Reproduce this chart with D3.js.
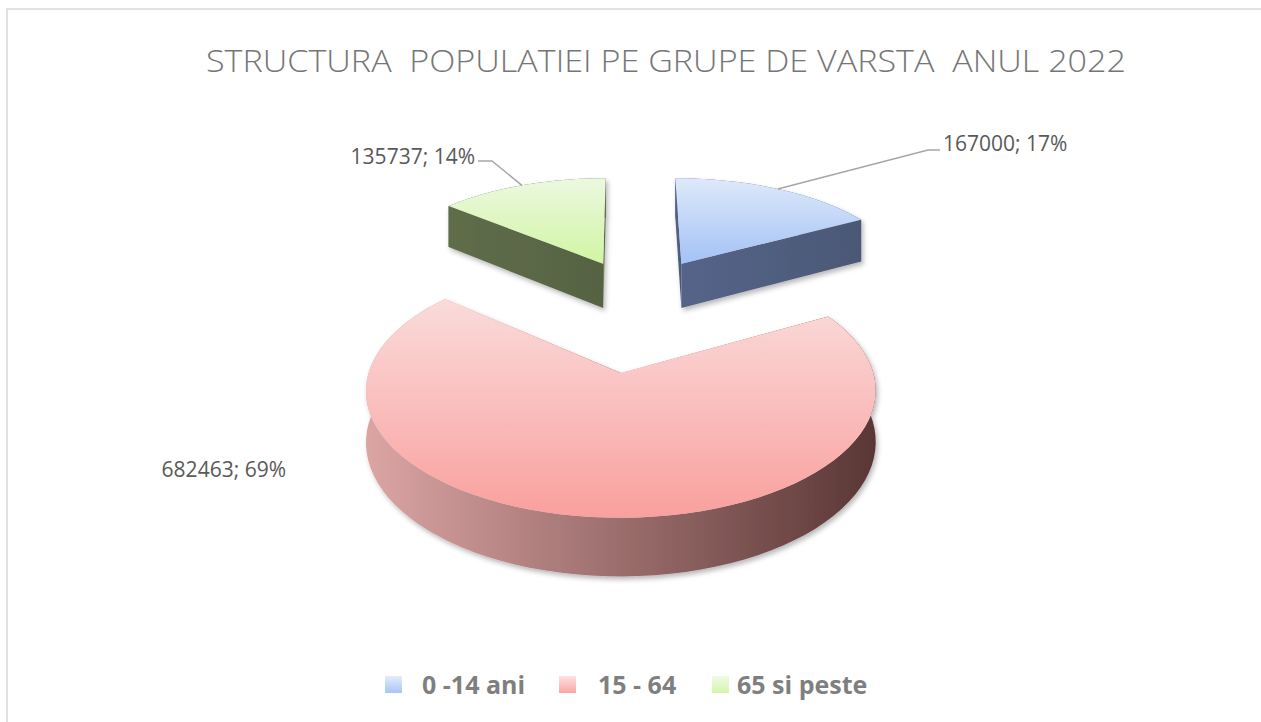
<!DOCTYPE html>
<html>
<head>
<meta charset="utf-8">
<script src="https://d3js.org/d3.v7.min.js"></script>
<style>
    body { margin: 0; background: #fff; }
    svg { display: block; }
    .title { font-family: "Open Sans", sans-serif; font-weight: 300; fill: #767676; white-space: pre; }
    .lbl { font-family: "Open Sans", sans-serif; fill: #595959; }
    .legend text { font-family: "Open Sans", sans-serif; font-weight: bold; fill: #7f7f7f; }
    .leader { fill: none; stroke: #a6a6a6; stroke-width: 1.5px; }
</style>
</head>
<body>
<script>
    // date
    const title = "STRUCTURA  POPULATIEI PE GRUPE DE VARSTA  ANUL 2022";
    const categories = ["0 -14 ani", "15 - 64", "65 si peste"];
    const values = [167000, 682463, 135737];

    const W = 1261, H = 722;

    // proiectie 3D (perspectiva)
    const P = 0.13, S = 235, T = 108, DEPTH = 47, CX = 626, CY = 311.5;
    // deplasare felii (explodare) in unitati de raza
    const explode = [[0.25, 0.47], [-0.02, -0.53], [-0.103, 0.47]];

    const topColors = [["#dee9fb", "#a3c2f5"], ["#fadbdb", "#f9a09d"], ["#ecf8e0", "#d1f5a3"]];
    const sideColors = [["#55648a", "#4b5875"], ["#dba5a4", "#5a3635"], ["#5f6d4b", "#566343"]];
    const legendColors = [["#e3ecfc", "#a7c5f6"], ["#fde2e2", "#faa6a4"], ["#f0fae5", "#d5f5ad"]];

    const xs = d3.scaleLinear().domain([0, 1]).range([CX, CX + S]);
    const ys = d3.scaleLinear().domain([0, 1]).range([CY, CY - T]);

    function proj(X, Z, y) {
        const den = 1 + P * Z;
        return [xs(X / den), ys(Z / den) + DEPTH * y / den];
    }

    const svg = d3.select("body").append("svg")
        .attr("width", W)
        .attr("height", H);

    const defs = svg.append("defs");

    function grad(id, c, horiz) {
        const g = defs.append("linearGradient").attr("id", id)
            .attr("x1", 0).attr("y1", 0)
            .attr("x2", horiz ? 1 : 0).attr("y2", horiz ? 0 : 1);
        g.append("stop").attr("offset", "0%").attr("stop-color", c[0]);
        g.append("stop").attr("offset", "100%").attr("stop-color", c[1]);
    }
    topColors.forEach((c, i) => grad("top" + i, c, false));
    sideColors.forEach((c, i) => grad("side" + i, c, true));
    legendColors.forEach((c, i) => grad("leg" + i, c, false));

    const shadow = defs.append("filter").attr("id", "shadow")
        .attr("x", "-10%").attr("y", "-10%").attr("width", "130%").attr("height", "130%");
    shadow.append("feDropShadow")
        .attr("dx", 2).attr("dy", 3).attr("stdDeviation", 2.5)
        .attr("flood-color", "#000").attr("flood-opacity", 0.28);

    // chenar
    svg.append("rect")
        .attr("x", 7).attr("y", 9)
        .attr("width", W).attr("height", H)
        .attr("fill", "none")
        .attr("stroke", "#d9d9d9")
        .attr("stroke-width", 1.5);

    svg.append("text")
        .attr("class", "title")
        .attr("x", 206).attr("y", 72)
        .attr("font-size", 32)
        .attr("textLength", 920)
        .attr("lengthAdjust", "spacingAndGlyphs")
        .text(title);

    const pie = d3.pie().sort(null).value(d => d);
    const arcs = pie(values);
    const total = d3.sum(values);

    const line = d3.line();

    function rim(i, a0, a1, y, n) {
        const [ox, oz] = explode[i];
        return d3.range(n + 1).map(k => {
            const a = a0 + (a1 - a0) * k / n;
            return proj(ox + Math.sin(a), oz + Math.cos(a), y);
        });
    }

    function drawSlice(i) {
        const d = arcs[i];
        const [ox, oz] = explode[i];
        const n = 80;
        const g = svg.append("g").attr("filter", "url(#shadow)");
        const apexT = proj(ox, oz, 0), apexB = proj(ox, oz, 1);

        // partea exterioara
        const outer = rim(i, d.startAngle, d.endAngle, 0, n)
            .concat(rim(i, d.endAngle, d.startAngle, 1, n));
        g.append("path")
            .attr("d", line(outer) + "Z")
            .attr("fill", `url(#side${i})`);

        // fetele radiale
        [d.startAngle, d.endAngle].forEach(a => {
            const pT = proj(ox + Math.sin(a), oz + Math.cos(a), 0);
            const pB = proj(ox + Math.sin(a), oz + Math.cos(a), 1);
            g.append("path")
                .attr("d", line([apexT, pT, pB, apexB]) + "Z")
                .attr("fill", `url(#side${i})`);
        });

        // fata de sus
        const top = [apexT].concat(rim(i, d.startAngle, d.endAngle, 0, n));
        g.append("path")
            .attr("d", line(top) + "Z")
            .attr("fill", `url(#top${i})`);
    }

    // ordinea de desenare: spate -> fata
    [0, 2, 1].forEach(drawSlice);

    // etichete
    const fmt = d => `${d.value}; ${Math.round(d.value / total * 100)}%`;
    const labelPos = [[943, 151, "start"], [286, 477, "end"], [475, 164, "end"]];
    const leaderAt = [[928, 150, 940], null, [492, 161, 478]];

    arcs.forEach((d, i) => {
        const [lx, ly, anchor] = labelPos[i];
        svg.append("text")
            .attr("class", "lbl")
            .attr("x", lx).attr("y", ly)
            .attr("font-size", 21)
            .attr("text-anchor", anchor)
            .text(fmt(d));
        if (leaderAt[i]) {
            const [ox, oz] = explode[i];
            const mid = (d.startAngle + d.endAngle) / 2;
            const start = proj(ox + Math.sin(mid), oz + Math.cos(mid), 0);
            const [bx, by, ex] = leaderAt[i];
            svg.append("path")
                .attr("class", "leader")
                .attr("d", line([start, [bx, by], [ex, by]]));
        }
    });

    // legenda
    const legX = [385, 559, 712], legTx = [422, 598, 737];
    const legend = svg.append("g").attr("class", "legend");
    categories.forEach((c, i) => {
        legend.append("rect")
            .attr("x", legX[i]).attr("y", 676)
            .attr("width", 17).attr("height", 17)
            .attr("fill", `url(#leg${i})`);
        legend.append("text")
            .attr("x", legTx[i]).attr("y", 694)
            .attr("font-size", 25)
            .text(c);
    });
</script>
</body>
</html>
